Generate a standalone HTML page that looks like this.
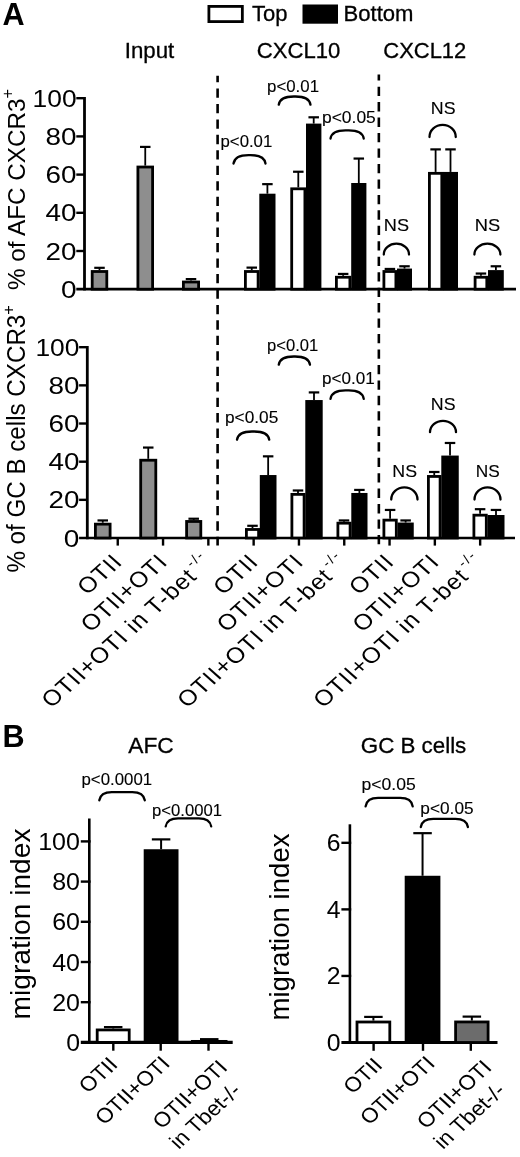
<!DOCTYPE html>
<html lang="en"><head><meta charset="utf-8"><title>Figure</title>
<style>html,body{margin:0;padding:0;background:#fff}svg{display:block}text{font-family:"Liberation Sans",Arial,Helvetica,sans-serif;fill:#000;stroke:#000;stroke-width:0.12px}</style>
</head><body>
<svg width="520" height="1157" viewBox="0 0 520 1157">
<rect width="520" height="1157" fill="#fff"/>
<text x="2.60" y="25.20" font-size="30.6" font-weight="bold" style="stroke:none">A</text>
<text x="2.60" y="746.80" font-size="30.6" font-weight="bold" style="stroke:none">B</text>
<rect x="208.9" y="6.4" width="33.45" height="15.2" fill="#fff" stroke="#000" stroke-width="2.8"/>
<text x="252.00" y="20.60" font-size="21.3" textLength="35.50" lengthAdjust="spacingAndGlyphs"  style="stroke-width:0.3px">Top</text>
<rect x="302.5" y="4.5" width="35.5" height="19.2" fill="#000"/>
<text x="343.50" y="20.80" font-size="21.3" textLength="70.00" lengthAdjust="spacingAndGlyphs"  style="stroke-width:0.3px">Bottom</text>
<text x="124.80" y="58.00" font-size="21.3" textLength="49.50" lengthAdjust="spacingAndGlyphs"  style="stroke-width:0.3px">Input</text>
<text x="256.80" y="57.60" font-size="21.3" textLength="83.50" lengthAdjust="spacingAndGlyphs"  style="stroke-width:0.3px">CXCL10</text>
<text x="383.30" y="57.60" font-size="21.3" textLength="83.00" lengthAdjust="spacingAndGlyphs"  style="stroke-width:0.3px">CXCL12</text>
<line x1="217.60" y1="75.80" x2="217.60" y2="545.60" stroke="#000" stroke-width="2.6" stroke-dasharray="9.3 6.16" stroke-dashoffset="2.8"/>
<line x1="378.85" y1="74.60" x2="378.85" y2="545.60" stroke="#000" stroke-width="2.6" stroke-dasharray="9.3 6.16" stroke-dashoffset="3.4"/>
<line x1="84.50" y1="97.00" x2="84.50" y2="290.45" stroke="#000" stroke-width="2.8" />
<line x1="76.30" y1="289.20" x2="516.00" y2="289.20" stroke="#000" stroke-width="2.7" />
<line x1="76.30" y1="251.00" x2="84.50" y2="251.00" stroke="#000" stroke-width="2.4" />
<line x1="76.30" y1="212.80" x2="84.50" y2="212.80" stroke="#000" stroke-width="2.4" />
<line x1="76.30" y1="174.60" x2="84.50" y2="174.60" stroke="#000" stroke-width="2.4" />
<line x1="76.30" y1="136.40" x2="84.50" y2="136.40" stroke="#000" stroke-width="2.4" />
<line x1="76.30" y1="98.20" x2="84.50" y2="98.20" stroke="#000" stroke-width="2.4" />
<rect x="92.20" y="271.50" width="14.60" height="17.70" fill="#8e8e8e" stroke="#000" stroke-width="2.8"/>
<line x1="99.50" y1="270.10" x2="99.50" y2="267.81" stroke="#000" stroke-width="1.8" />
<line x1="94.25" y1="267.81" x2="104.75" y2="267.81" stroke="#000" stroke-width="2.2" />
<rect x="137.90" y="167.02" width="14.70" height="122.18" fill="#8e8e8e" stroke="#000" stroke-width="2.8"/>
<line x1="145.25" y1="165.62" x2="145.25" y2="146.91" stroke="#000" stroke-width="1.8" />
<line x1="140.00" y1="146.91" x2="150.50" y2="146.91" stroke="#000" stroke-width="2.2" />
<rect x="183.40" y="282.00" width="15.20" height="7.19" fill="#8e8e8e" stroke="#000" stroke-width="2.8"/>
<line x1="191.00" y1="280.61" x2="191.00" y2="279.08" stroke="#000" stroke-width="1.8" />
<line x1="185.75" y1="279.08" x2="196.25" y2="279.08" stroke="#000" stroke-width="2.2" />
<rect x="245.40" y="271.50" width="12.70" height="17.70" fill="#fff" stroke="#000" stroke-width="2.8"/>
<line x1="251.75" y1="270.10" x2="251.75" y2="267.62" stroke="#000" stroke-width="1.8" />
<line x1="246.50" y1="267.62" x2="257.00" y2="267.62" stroke="#000" stroke-width="2.2" />
<rect x="260.70" y="195.10" width="13.40" height="94.10" fill="#000" stroke="#000" stroke-width="2.8"/>
<line x1="267.40" y1="193.70" x2="267.40" y2="184.15" stroke="#000" stroke-width="1.8" />
<line x1="262.15" y1="184.15" x2="272.65" y2="184.15" stroke="#000" stroke-width="2.2" />
<rect x="291.70" y="188.80" width="13.20" height="100.40" fill="#fff" stroke="#000" stroke-width="2.8"/>
<line x1="298.30" y1="187.40" x2="298.30" y2="171.74" stroke="#000" stroke-width="1.8" />
<line x1="293.05" y1="171.74" x2="303.55" y2="171.74" stroke="#000" stroke-width="2.2" />
<rect x="307.40" y="125.00" width="12.60" height="164.20" fill="#000" stroke="#000" stroke-width="2.8"/>
<line x1="313.70" y1="123.60" x2="313.70" y2="117.30" stroke="#000" stroke-width="1.8" />
<line x1="308.45" y1="117.30" x2="318.95" y2="117.30" stroke="#000" stroke-width="2.2" />
<rect x="336.40" y="277.23" width="13.50" height="11.97" fill="#fff" stroke="#000" stroke-width="2.8"/>
<line x1="343.15" y1="275.83" x2="343.15" y2="273.92" stroke="#000" stroke-width="1.8" />
<line x1="337.90" y1="273.92" x2="348.40" y2="273.92" stroke="#000" stroke-width="2.2" />
<rect x="352.60" y="184.40" width="12.40" height="104.80" fill="#000" stroke="#000" stroke-width="2.8"/>
<line x1="358.80" y1="183.00" x2="358.80" y2="158.56" stroke="#000" stroke-width="1.8" />
<line x1="353.55" y1="158.56" x2="364.05" y2="158.56" stroke="#000" stroke-width="2.2" />
<rect x="383.90" y="271.50" width="12.00" height="17.70" fill="#fff" stroke="#000" stroke-width="2.8"/>
<line x1="389.90" y1="270.10" x2="389.90" y2="268.95" stroke="#000" stroke-width="1.8" />
<line x1="384.65" y1="268.95" x2="395.15" y2="268.95" stroke="#000" stroke-width="2.2" />
<rect x="398.40" y="269.97" width="12.20" height="19.23" fill="#000" stroke="#000" stroke-width="2.8"/>
<line x1="404.50" y1="268.57" x2="404.50" y2="266.28" stroke="#000" stroke-width="1.8" />
<line x1="399.25" y1="266.28" x2="409.75" y2="266.28" stroke="#000" stroke-width="2.2" />
<rect x="429.40" y="173.33" width="12.40" height="115.87" fill="#fff" stroke="#000" stroke-width="2.8"/>
<line x1="435.60" y1="171.93" x2="435.60" y2="149.39" stroke="#000" stroke-width="1.8" />
<line x1="430.35" y1="149.39" x2="440.85" y2="149.39" stroke="#000" stroke-width="2.2" />
<rect x="444.40" y="173.33" width="12.20" height="115.87" fill="#000" stroke="#000" stroke-width="2.8"/>
<line x1="450.50" y1="171.93" x2="450.50" y2="149.39" stroke="#000" stroke-width="1.8" />
<line x1="445.25" y1="149.39" x2="455.75" y2="149.39" stroke="#000" stroke-width="2.2" />
<rect x="475.10" y="277.23" width="11.70" height="11.97" fill="#fff" stroke="#000" stroke-width="2.8"/>
<line x1="480.95" y1="275.83" x2="480.95" y2="273.54" stroke="#000" stroke-width="1.8" />
<line x1="475.70" y1="273.54" x2="486.20" y2="273.54" stroke="#000" stroke-width="2.2" />
<rect x="489.40" y="271.50" width="13.00" height="17.70" fill="#000" stroke="#000" stroke-width="2.8"/>
<line x1="495.90" y1="270.10" x2="495.90" y2="266.28" stroke="#000" stroke-width="1.8" />
<line x1="490.65" y1="266.28" x2="501.15" y2="266.28" stroke="#000" stroke-width="2.2" />
<text x="76.60" y="297.80" font-size="24.5" textLength="15.60" lengthAdjust="spacingAndGlyphs" text-anchor="end" style="stroke:none">0</text>
<text x="76.60" y="259.60" font-size="24.5" textLength="31.00" lengthAdjust="spacingAndGlyphs" text-anchor="end" style="stroke:none">20</text>
<text x="76.60" y="221.40" font-size="24.5" textLength="31.00" lengthAdjust="spacingAndGlyphs" text-anchor="end" style="stroke:none">40</text>
<text x="76.60" y="183.20" font-size="24.5" textLength="31.00" lengthAdjust="spacingAndGlyphs" text-anchor="end" style="stroke:none">60</text>
<text x="76.60" y="145.00" font-size="24.5" textLength="31.00" lengthAdjust="spacingAndGlyphs" text-anchor="end" style="stroke:none">80</text>
<text x="76.60" y="106.80" font-size="24.5" textLength="44.00" lengthAdjust="spacingAndGlyphs" text-anchor="end" style="stroke:none">100</text>
<text transform="translate(25.2,290) rotate(-90)" style="stroke:none" font-size="24" textLength="201" lengthAdjust="spacingAndGlyphs">% of AFC CXCR3<tspan font-size="16" dy="-12">+</tspan></text>
<text x="220.50" y="147.40" font-size="16.5" textLength="51.80" lengthAdjust="spacingAndGlyphs" >p&lt;0.01</text>
<path d="M233.50,163.50 C234.30,158.29 238.00,155.10 248.50,155.10 L250.50,155.10 C261.00,155.10 264.70,158.29 265.50,163.50" fill="none" stroke="#000" stroke-width="2.3" stroke-linecap="round"/>
<text x="267.00" y="91.90" font-size="16.5" textLength="52.05" lengthAdjust="spacingAndGlyphs" >p&lt;0.01</text>
<path d="M278.75,104.70 C279.55,99.62 283.25,96.50 293.75,96.50 L295.50,96.50 C306.00,96.50 309.70,99.62 310.50,104.70" fill="none" stroke="#000" stroke-width="2.3" stroke-linecap="round"/>
<text x="322.00" y="123.15" font-size="16.5" textLength="53.80" lengthAdjust="spacingAndGlyphs" >p&lt;0.05</text>
<path d="M330.50,138.50 C331.30,133.42 335.00,130.30 345.50,130.30 L348.75,130.30 C359.25,130.30 362.95,133.42 363.75,138.50" fill="none" stroke="#000" stroke-width="2.3" stroke-linecap="round"/>
<text x="383.80" y="231.20" font-size="16.5" textLength="25.20" lengthAdjust="spacingAndGlyphs" >NS</text>
<path d="M383.80,254.50 A12.60,10.80 0 0 1 396.40,243.70 L396.40,243.70 A12.60,10.80 0 0 1 409.00,254.50" fill="none" stroke="#000" stroke-width="2.3" stroke-linecap="round"/>
<text x="430.80" y="114.25" font-size="16.5" textLength="24.70" lengthAdjust="spacingAndGlyphs" >NS</text>
<path d="M429.50,137.00 A13.12,12.20 0 0 1 442.62,124.80 L442.62,124.80 A13.12,12.20 0 0 1 455.75,137.00" fill="none" stroke="#000" stroke-width="2.3" stroke-linecap="round"/>
<text x="474.80" y="231.20" font-size="16.5" textLength="25.40" lengthAdjust="spacingAndGlyphs" >NS</text>
<path d="M474.40,254.50 A13.00,10.80 0 0 1 487.40,243.70 L487.40,243.70 A13.00,10.80 0 0 1 500.40,254.50" fill="none" stroke="#000" stroke-width="2.3" stroke-linecap="round"/>
<line x1="87.30" y1="346.00" x2="87.30" y2="539.25" stroke="#000" stroke-width="2.8" />
<line x1="79.10" y1="538.00" x2="515.00" y2="538.00" stroke="#000" stroke-width="2.7" />
<line x1="79.10" y1="499.84" x2="87.30" y2="499.84" stroke="#000" stroke-width="2.4" />
<line x1="79.10" y1="461.68" x2="87.30" y2="461.68" stroke="#000" stroke-width="2.4" />
<line x1="79.10" y1="423.52" x2="87.30" y2="423.52" stroke="#000" stroke-width="2.4" />
<line x1="79.10" y1="385.36" x2="87.30" y2="385.36" stroke="#000" stroke-width="2.4" />
<line x1="79.10" y1="347.20" x2="87.30" y2="347.20" stroke="#000" stroke-width="2.4" />
<rect x="95.40" y="524.14" width="14.70" height="13.86" fill="#8e8e8e" stroke="#000" stroke-width="2.8"/>
<line x1="102.75" y1="522.74" x2="102.75" y2="520.45" stroke="#000" stroke-width="1.8" />
<line x1="97.50" y1="520.45" x2="108.00" y2="520.45" stroke="#000" stroke-width="2.2" />
<rect x="140.70" y="460.22" width="15.10" height="77.78" fill="#8e8e8e" stroke="#000" stroke-width="2.8"/>
<line x1="148.25" y1="458.82" x2="148.25" y2="447.56" stroke="#000" stroke-width="1.8" />
<line x1="143.00" y1="447.56" x2="153.50" y2="447.56" stroke="#000" stroke-width="2.2" />
<rect x="186.60" y="521.46" width="14.20" height="16.54" fill="#8e8e8e" stroke="#000" stroke-width="2.8"/>
<line x1="193.70" y1="520.06" x2="193.70" y2="518.73" stroke="#000" stroke-width="1.8" />
<line x1="188.45" y1="518.73" x2="198.95" y2="518.73" stroke="#000" stroke-width="2.2" />
<rect x="246.40" y="529.48" width="12.20" height="8.52" fill="#fff" stroke="#000" stroke-width="2.8"/>
<line x1="252.50" y1="528.08" x2="252.50" y2="525.79" stroke="#000" stroke-width="1.8" />
<line x1="247.25" y1="525.79" x2="257.75" y2="525.79" stroke="#000" stroke-width="2.2" />
<rect x="261.20" y="476.44" width="13.90" height="61.56" fill="#000" stroke="#000" stroke-width="2.8"/>
<line x1="268.15" y1="475.04" x2="268.15" y2="456.34" stroke="#000" stroke-width="1.8" />
<line x1="262.90" y1="456.34" x2="273.40" y2="456.34" stroke="#000" stroke-width="2.2" />
<rect x="291.90" y="494.37" width="12.20" height="43.63" fill="#fff" stroke="#000" stroke-width="2.8"/>
<line x1="298.00" y1="492.97" x2="298.00" y2="490.49" stroke="#000" stroke-width="1.8" />
<line x1="292.75" y1="490.49" x2="303.25" y2="490.49" stroke="#000" stroke-width="2.2" />
<rect x="306.70" y="401.45" width="14.60" height="136.55" fill="#000" stroke="#000" stroke-width="2.8"/>
<line x1="314.00" y1="400.05" x2="314.00" y2="392.42" stroke="#000" stroke-width="1.8" />
<line x1="308.75" y1="392.42" x2="319.25" y2="392.42" stroke="#000" stroke-width="2.2" />
<rect x="337.90" y="523.18" width="12.20" height="14.82" fill="#fff" stroke="#000" stroke-width="2.8"/>
<line x1="344.00" y1="521.78" x2="344.00" y2="520.45" stroke="#000" stroke-width="1.8" />
<line x1="338.75" y1="520.45" x2="349.25" y2="520.45" stroke="#000" stroke-width="2.2" />
<rect x="352.70" y="494.37" width="13.40" height="43.63" fill="#000" stroke="#000" stroke-width="2.8"/>
<line x1="359.40" y1="492.97" x2="359.40" y2="489.92" stroke="#000" stroke-width="1.8" />
<line x1="354.15" y1="489.92" x2="364.65" y2="489.92" stroke="#000" stroke-width="2.2" />
<rect x="383.90" y="520.13" width="12.40" height="17.87" fill="#fff" stroke="#000" stroke-width="2.8"/>
<line x1="390.10" y1="518.73" x2="390.10" y2="509.95" stroke="#000" stroke-width="1.8" />
<line x1="384.85" y1="509.95" x2="395.35" y2="509.95" stroke="#000" stroke-width="2.2" />
<rect x="398.90" y="523.95" width="13.45" height="14.05" fill="#000" stroke="#000" stroke-width="2.8"/>
<line x1="405.62" y1="522.55" x2="405.62" y2="520.45" stroke="#000" stroke-width="1.8" />
<line x1="400.38" y1="520.45" x2="410.88" y2="520.45" stroke="#000" stroke-width="2.2" />
<rect x="428.40" y="476.44" width="11.70" height="61.56" fill="#fff" stroke="#000" stroke-width="2.8"/>
<line x1="434.25" y1="475.04" x2="434.25" y2="471.98" stroke="#000" stroke-width="1.8" />
<line x1="429.00" y1="471.98" x2="439.50" y2="471.98" stroke="#000" stroke-width="2.2" />
<rect x="442.70" y="456.97" width="14.65" height="81.03" fill="#000" stroke="#000" stroke-width="2.8"/>
<line x1="450.02" y1="455.57" x2="450.02" y2="442.98" stroke="#000" stroke-width="1.8" />
<line x1="444.77" y1="442.98" x2="455.27" y2="442.98" stroke="#000" stroke-width="2.2" />
<rect x="473.90" y="515.17" width="12.40" height="22.83" fill="#fff" stroke="#000" stroke-width="2.8"/>
<line x1="480.10" y1="513.77" x2="480.10" y2="509.19" stroke="#000" stroke-width="1.8" />
<line x1="474.85" y1="509.19" x2="485.35" y2="509.19" stroke="#000" stroke-width="2.2" />
<rect x="488.90" y="516.41" width="14.20" height="21.59" fill="#000" stroke="#000" stroke-width="2.8"/>
<line x1="496.00" y1="515.01" x2="496.00" y2="509.95" stroke="#000" stroke-width="1.8" />
<line x1="490.75" y1="509.95" x2="501.25" y2="509.95" stroke="#000" stroke-width="2.2" />
<text x="79.40" y="546.60" font-size="24.5" textLength="15.60" lengthAdjust="spacingAndGlyphs" text-anchor="end" style="stroke:none">0</text>
<text x="79.40" y="508.44" font-size="24.5" textLength="31.00" lengthAdjust="spacingAndGlyphs" text-anchor="end" style="stroke:none">20</text>
<text x="79.40" y="470.28" font-size="24.5" textLength="31.00" lengthAdjust="spacingAndGlyphs" text-anchor="end" style="stroke:none">40</text>
<text x="79.40" y="432.12" font-size="24.5" textLength="31.00" lengthAdjust="spacingAndGlyphs" text-anchor="end" style="stroke:none">60</text>
<text x="79.40" y="393.96" font-size="24.5" textLength="31.00" lengthAdjust="spacingAndGlyphs" text-anchor="end" style="stroke:none">80</text>
<text x="79.40" y="355.80" font-size="24.5" textLength="44.00" lengthAdjust="spacingAndGlyphs" text-anchor="end" style="stroke:none">100</text>
<line x1="117.75" y1="538.00" x2="117.75" y2="545.60" stroke="#000" stroke-width="2.4" />
<line x1="163.05" y1="538.00" x2="163.05" y2="545.60" stroke="#000" stroke-width="2.4" />
<line x1="208.35" y1="538.00" x2="208.35" y2="545.60" stroke="#000" stroke-width="2.4" />
<line x1="253.65" y1="538.00" x2="253.65" y2="545.60" stroke="#000" stroke-width="2.4" />
<line x1="298.95" y1="538.00" x2="298.95" y2="545.60" stroke="#000" stroke-width="2.4" />
<line x1="344.25" y1="538.00" x2="344.25" y2="545.60" stroke="#000" stroke-width="2.4" />
<line x1="389.55" y1="538.00" x2="389.55" y2="545.60" stroke="#000" stroke-width="2.4" />
<line x1="434.85" y1="538.00" x2="434.85" y2="545.60" stroke="#000" stroke-width="2.4" />
<line x1="480.15" y1="538.00" x2="480.15" y2="545.60" stroke="#000" stroke-width="2.4" />
<text transform="translate(24.8,572.6) rotate(-90)" style="stroke:none" font-size="25" textLength="267.5" lengthAdjust="spacingAndGlyphs">% of GC B cells CXCR3<tspan font-size="17" dy="-11">+</tspan></text>
<text x="225.00" y="423.15" font-size="16.5" textLength="53.30" lengthAdjust="spacingAndGlyphs" >p&lt;0.05</text>
<path d="M237.00,439.70 C237.80,434.62 241.50,431.50 252.00,431.50 L254.25,431.50 C264.75,431.50 268.45,434.62 269.25,439.70" fill="none" stroke="#000" stroke-width="2.3" stroke-linecap="round"/>
<text x="267.00" y="350.65" font-size="16.5" textLength="51.30" lengthAdjust="spacingAndGlyphs" >p&lt;0.01</text>
<path d="M278.75,364.70 C279.55,359.62 283.25,356.50 293.75,356.50 L295.00,356.50 C305.50,356.50 309.20,359.62 310.00,364.70" fill="none" stroke="#000" stroke-width="2.3" stroke-linecap="round"/>
<text x="322.00" y="383.90" font-size="16.5" textLength="52.80" lengthAdjust="spacingAndGlyphs" >p&lt;0.01</text>
<path d="M330.50,398.80 C331.30,393.53 335.00,390.30 345.50,390.30 L348.75,390.30 C359.25,390.30 362.95,393.53 363.75,398.80" fill="none" stroke="#000" stroke-width="2.3" stroke-linecap="round"/>
<text x="392.30" y="477.30" font-size="16.5" textLength="24.70" lengthAdjust="spacingAndGlyphs" >NS</text>
<path d="M391.25,499.50 A13.12,12.20 0 0 1 404.38,487.30 L404.38,487.30 A13.12,12.20 0 0 1 417.50,499.50" fill="none" stroke="#000" stroke-width="2.3" stroke-linecap="round"/>
<text x="430.80" y="410.00" font-size="16.5" textLength="24.70" lengthAdjust="spacingAndGlyphs" >NS</text>
<path d="M430.00,432.20 A13.00,11.40 0 0 1 443.00,420.80 L443.00,420.80 A13.00,11.40 0 0 1 456.00,432.20" fill="none" stroke="#000" stroke-width="2.3" stroke-linecap="round"/>
<text x="475.80" y="477.30" font-size="16.5" textLength="23.95" lengthAdjust="spacingAndGlyphs" >NS</text>
<path d="M474.50,499.50 A13.00,12.20 0 0 1 487.50,487.30 L487.50,487.30 A13.00,12.20 0 0 1 500.50,499.50" fill="none" stroke="#000" stroke-width="2.3" stroke-linecap="round"/>
<text transform="translate(123.75,563.20) scale(1.12,1) rotate(-45)" style="stroke:none" font-size="22" letter-spacing="0.82" text-anchor="end">OTII</text>
<text transform="translate(169.05,563.20) scale(1.12,1) rotate(-45)" style="stroke:none" font-size="22" letter-spacing="0.82" text-anchor="end">OTII+OTI</text>
<text transform="translate(214.35,563.20) scale(1.12,1) rotate(-45)" style="stroke:none" font-size="22" letter-spacing="0.82" text-anchor="end">OTII+OTI in T-bet<tspan font-size="13" dy="-10.8" dx="2.8" letter-spacing="1.8">-/-</tspan></text>
<text transform="translate(259.65,563.20) scale(1.12,1) rotate(-45)" style="stroke:none" font-size="22" letter-spacing="0.82" text-anchor="end">OTII</text>
<text transform="translate(304.95,563.20) scale(1.12,1) rotate(-45)" style="stroke:none" font-size="22" letter-spacing="0.82" text-anchor="end">OTII+OTI</text>
<text transform="translate(350.25,563.20) scale(1.12,1) rotate(-45)" style="stroke:none" font-size="22" letter-spacing="0.82" text-anchor="end">OTII+OTI in T-bet<tspan font-size="13" dy="-10.8" dx="2.8" letter-spacing="1.8">-/-</tspan></text>
<text transform="translate(395.55,563.20) scale(1.12,1) rotate(-45)" style="stroke:none" font-size="22" letter-spacing="0.82" text-anchor="end">OTII</text>
<text transform="translate(440.85,563.20) scale(1.12,1) rotate(-45)" style="stroke:none" font-size="22" letter-spacing="0.82" text-anchor="end">OTII+OTI</text>
<text transform="translate(486.15,563.20) scale(1.12,1) rotate(-45)" style="stroke:none" font-size="22" letter-spacing="0.82" text-anchor="end">OTII+OTI in T-bet<tspan font-size="13" dy="-10.8" dx="2.8" letter-spacing="1.8">-/-</tspan></text>
<line x1="89.30" y1="818.50" x2="89.30" y2="1043.60" stroke="#000" stroke-width="2.6" />
<line x1="80.80" y1="1042.40" x2="232.70" y2="1042.40" stroke="#000" stroke-width="3.1" />
<line x1="80.80" y1="1002.20" x2="90.60" y2="1002.20" stroke="#000" stroke-width="2.4" />
<line x1="80.80" y1="962.00" x2="90.60" y2="962.00" stroke="#000" stroke-width="2.4" />
<line x1="80.80" y1="921.80" x2="90.60" y2="921.80" stroke="#000" stroke-width="2.4" />
<line x1="80.80" y1="881.60" x2="90.60" y2="881.60" stroke="#000" stroke-width="2.4" />
<line x1="80.80" y1="841.40" x2="90.60" y2="841.40" stroke="#000" stroke-width="2.4" />
<rect x="97.20" y="1029.93" width="32.00" height="12.47" fill="#fff" stroke="#000" stroke-width="2.8"/>
<line x1="113.20" y1="1028.53" x2="113.20" y2="1027.12" stroke="#000" stroke-width="2.0" />
<line x1="103.95" y1="1027.12" x2="122.45" y2="1027.12" stroke="#000" stroke-width="2.2" />
<rect x="145.10" y="850.64" width="32.00" height="191.76" fill="#000" stroke="#000" stroke-width="2.8"/>
<line x1="161.10" y1="849.24" x2="161.10" y2="839.39" stroke="#000" stroke-width="2.0" />
<line x1="151.85" y1="839.39" x2="170.35" y2="839.39" stroke="#000" stroke-width="2.2" />
<rect x="192.40" y="1041.39" width="33.70" height="1.01" fill="#6c6c6c" stroke="#000" stroke-width="2.8"/>
<line x1="209.25" y1="1039.99" x2="209.25" y2="1039.18" stroke="#000" stroke-width="2.0" />
<line x1="200.00" y1="1039.18" x2="218.50" y2="1039.18" stroke="#000" stroke-width="2.2" />
<line x1="113.30" y1="1042.40" x2="113.30" y2="1050.70" stroke="#000" stroke-width="2.4" />
<line x1="160.70" y1="1042.40" x2="160.70" y2="1050.70" stroke="#000" stroke-width="2.4" />
<line x1="208.50" y1="1042.40" x2="208.50" y2="1050.70" stroke="#000" stroke-width="2.4" />
<text x="66.20" y="1050.90" font-size="23.5" textLength="13.80" lengthAdjust="spacingAndGlyphs" style="stroke:none">0</text>
<text x="52.20" y="1010.70" font-size="23.5" textLength="27.80" lengthAdjust="spacingAndGlyphs" style="stroke:none">20</text>
<text x="52.20" y="970.50" font-size="23.5" textLength="27.80" lengthAdjust="spacingAndGlyphs" style="stroke:none">40</text>
<text x="52.20" y="930.30" font-size="23.5" textLength="27.80" lengthAdjust="spacingAndGlyphs" style="stroke:none">60</text>
<text x="52.20" y="890.10" font-size="23.5" textLength="27.80" lengthAdjust="spacingAndGlyphs" style="stroke:none">80</text>
<text x="38.20" y="849.90" font-size="23.5" textLength="41.80" lengthAdjust="spacingAndGlyphs" style="stroke:none">100</text>
<text transform="translate(29.8,1019.5) rotate(-90)" style="stroke:none" font-size="27.5" textLength="191" lengthAdjust="spacingAndGlyphs">migration index</text>
<text x="128.30" y="752.60" font-size="21.3" textLength="45.50" lengthAdjust="spacingAndGlyphs"  style="stroke-width:0.3px">AFC</text>
<text x="81.50" y="784.80" font-size="16.5" textLength="70.60" lengthAdjust="spacingAndGlyphs" >p&lt;0.0001</text>
<path d="M99.30,800.30 C100.10,795.22 103.05,792.10 111.80,792.10 L132.30,792.10 C141.05,792.10 144.00,795.22 144.80,800.30" fill="none" stroke="#000" stroke-width="2.3" stroke-linecap="round"/>
<text x="152.00" y="815.60" font-size="16.5" textLength="70.00" lengthAdjust="spacingAndGlyphs" >p&lt;0.0001</text>
<path d="M165.70,826.40 C166.50,821.38 169.45,818.30 178.20,818.30 L198.70,818.30 C207.45,818.30 210.40,821.38 211.20,826.40" fill="none" stroke="#000" stroke-width="2.3" stroke-linecap="round"/>
<line x1="349.90" y1="824.30" x2="349.90" y2="1043.70" stroke="#000" stroke-width="2.6" />
<line x1="341.40" y1="1042.50" x2="497.50" y2="1042.50" stroke="#000" stroke-width="3.1" />
<line x1="341.40" y1="975.94" x2="351.20" y2="975.94" stroke="#000" stroke-width="2.4" />
<line x1="341.40" y1="909.38" x2="351.20" y2="909.38" stroke="#000" stroke-width="2.4" />
<line x1="341.40" y1="842.82" x2="351.20" y2="842.82" stroke="#000" stroke-width="2.4" />
<rect x="357.00" y="1022.00" width="32.80" height="20.50" fill="#fff" stroke="#000" stroke-width="2.8"/>
<line x1="373.40" y1="1020.60" x2="373.40" y2="1016.91" stroke="#000" stroke-width="2.0" />
<line x1="364.15" y1="1016.91" x2="382.65" y2="1016.91" stroke="#000" stroke-width="2.2" />
<rect x="406.10" y="877.17" width="32.90" height="165.33" fill="#000" stroke="#000" stroke-width="2.8"/>
<line x1="422.55" y1="875.77" x2="422.55" y2="833.17" stroke="#000" stroke-width="2.0" />
<line x1="413.30" y1="833.17" x2="431.80" y2="833.17" stroke="#000" stroke-width="2.2" />
<rect x="455.60" y="1021.94" width="32.50" height="20.56" fill="#6c6c6c" stroke="#000" stroke-width="2.8"/>
<line x1="471.85" y1="1020.54" x2="471.85" y2="1016.61" stroke="#000" stroke-width="2.0" />
<line x1="462.60" y1="1016.61" x2="481.10" y2="1016.61" stroke="#000" stroke-width="2.2" />
<line x1="373.60" y1="1042.50" x2="373.60" y2="1050.80" stroke="#000" stroke-width="2.4" />
<line x1="423.00" y1="1042.50" x2="423.00" y2="1050.80" stroke="#000" stroke-width="2.4" />
<line x1="470.80" y1="1042.50" x2="470.80" y2="1050.80" stroke="#000" stroke-width="2.4" />
<text x="326.70" y="1051.00" font-size="23.5" textLength="13.80" lengthAdjust="spacingAndGlyphs" style="stroke:none">0</text>
<text x="326.70" y="984.44" font-size="23.5" textLength="13.80" lengthAdjust="spacingAndGlyphs" style="stroke:none">2</text>
<text x="326.70" y="917.88" font-size="23.5" textLength="13.80" lengthAdjust="spacingAndGlyphs" style="stroke:none">4</text>
<text x="326.70" y="851.32" font-size="23.5" textLength="13.80" lengthAdjust="spacingAndGlyphs" style="stroke:none">6</text>
<text transform="translate(288.5,1020.5) rotate(-90)" style="stroke:none" font-size="27.5" textLength="187" lengthAdjust="spacingAndGlyphs">migration index</text>
<text x="360.80" y="752.70" font-size="21.3" textLength="105.50" lengthAdjust="spacingAndGlyphs"  style="stroke-width:0.3px">GC B cells</text>
<text x="361.50" y="790.40" font-size="16.5" textLength="54.20" lengthAdjust="spacingAndGlyphs" >p&lt;0.05</text>
<path d="M365.60,806.30 C366.40,801.09 369.35,797.90 378.10,797.90 L400.20,797.90 C408.95,797.90 411.90,801.09 412.70,806.30" fill="none" stroke="#000" stroke-width="2.3" stroke-linecap="round"/>
<text x="420.30" y="813.80" font-size="16.5" textLength="53.30" lengthAdjust="spacingAndGlyphs" >p&lt;0.05</text>
<path d="M420.80,827.00 C421.60,821.98 424.55,818.90 433.30,818.90 L455.40,818.90 C464.15,818.90 467.10,821.98 467.90,827.00" fill="none" stroke="#000" stroke-width="2.3" stroke-linecap="round"/>
<text transform="translate(119.00,1065.80) scale(1.095,1) rotate(-45)" style="stroke:none" font-size="20.6" text-anchor="end">OTII</text>
<text transform="translate(171.10,1064.70) scale(1.095,1) rotate(-45)" style="stroke:none" font-size="20.6" text-anchor="end">OTII+OTI</text>
<text transform="translate(216.70,1067.60) scale(1.095,1) rotate(-45)" style="stroke:none" font-size="20.6" text-anchor="end"><tspan x="7" y="8.5">OTII+OTI</tspan><tspan x="-0.7" y="33.7">in Tbet-/-</tspan></text>
<text transform="translate(383.60,1066.40) scale(1.095,1) rotate(-45)" style="stroke:none" font-size="20.6" text-anchor="end">OTII</text>
<text transform="translate(436.10,1064.70) scale(1.095,1) rotate(-45)" style="stroke:none" font-size="20.6" text-anchor="end">OTII+OTI</text>
<text transform="translate(481.00,1067.60) scale(1.095,1) rotate(-45)" style="stroke:none" font-size="20.6" text-anchor="end"><tspan x="7" y="8.5">OTII+OTI</tspan><tspan x="-0.7" y="33.7">in Tbet-/-</tspan></text>
</svg>
</body></html>
